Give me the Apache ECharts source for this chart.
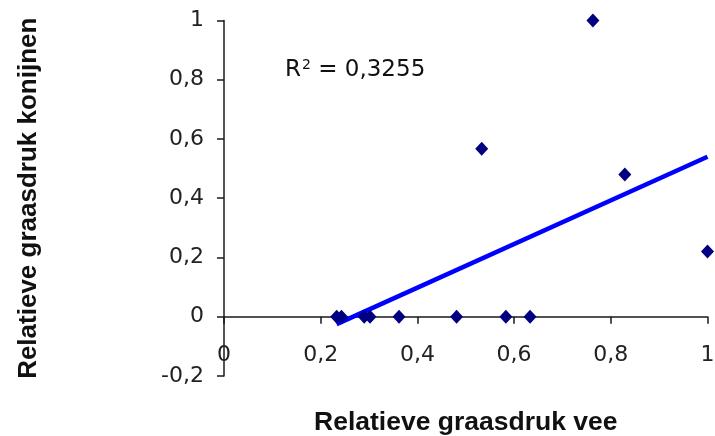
<!DOCTYPE html>
<html>
<head>
<meta charset="utf-8">
<script src="https://cdn.jsdelivr.net/npm/echarts@6/dist/echarts.min.js"></script>
<style>html,body{margin:0;padding:0;background:#fff}#c{width:715px;height:436px}</style>
</head>
<body>
<div id="c"></div>
<script>
const xValues = [0.233, 0.243, 0.290, 0.302, 0.362, 0.481, 0.583, 0.633, 0.533, 0.763, 0.829, 1.0];
const yValues = [0, 0, 0, 0, 0, 0, 0, 0, 0.567, 1.0, 0.48, 0.22];
const trendX = [0.233, 1.0];
const trendY = [-0.025, 0.54];
const rSquaredText = '0,3255';
const xAxisTitle = 'Relatieve graasdruk vee';
const yAxisTitle = 'Relatieve graasdruk konijnen';

const fmt = v => String(Math.round(v * 10) / 10).replace('.', ',');
const font = '"Liberation Sans", Arial, sans-serif';
const numFont = '"DejaVu Sans", sans-serif';
const chart = echarts.init(document.getElementById('c'));
chart.setOption({
  animation: false,
  backgroundColor: '#fff',
  grid: { left: 224, right: 7.5, top: 20.5, bottom: 60, containLabel: false, outerBoundsMode: 'none' },
  xAxis: {
    type: 'value', min: 0, max: 1, interval: 0.2,
    axisLine: { onZero: true, lineStyle: { color: '#1a1a1a', width: 1.5 } },
    axisTick: { show: true, inside: false, length: 7, lineStyle: { color: '#1a1a1a', width: 1.5 } },
    axisLabel: { margin: -32, formatter: fmt, color: '#222', fontSize: 22, fontFamily: numFont },
    splitLine: { show: false },
    name: xAxisTitle, nameLocation: 'middle', nameGap: 33,
    nameTextStyle: { fontSize: 26.5, fontWeight: 'bold', color: '#111', fontFamily: font }
  },
  yAxis: {
    type: 'value', min: -0.2, max: 1, interval: 0.2,
    axisLine: { show: true, onZero: false, lineStyle: { color: '#1a1a1a', width: 1.5 } },
    axisTick: { show: true, inside: false, length: 7, lineStyle: { color: '#1a1a1a', width: 1.5 } },
    axisLabel: { margin: 20, formatter: fmt, color: '#222', fontSize: 22, fontFamily: numFont },
    splitLine: { show: false },
    name: yAxisTitle, nameLocation: 'middle', nameGap: 182, nameRotate: 90,
    nameTextStyle: { fontSize: 26, fontWeight: 'bold', color: '#111', fontFamily: font }
  },
  graphic: [{
    type: 'text', left: 285, top: 58, z: 100,
    style: {
      text: '{a|R}{s|2}{a| = ' + rSquaredText + '}',
      rich: {
        a: { fontSize: 23, fontFamily: numFont, fill: '#111', verticalAlign: 'bottom' },
        s: { fontSize: 14, fontFamily: numFont, fill: '#111', verticalAlign: 'top', padding: [0, 0, 10, 1] }
      }
    }
  }],
  series: [
    {
      type: 'line',
      data: trendX.map((x, i) => [x, trendY[i]]),
      symbol: 'none',
      lineStyle: { color: '#0000ff', width: 4.5 },
      z: 3
    },
    {
      type: 'scatter',
      data: xValues.map((x, i) => [x, yValues[i]]),
      symbol: 'diamond', symbolSize: [13, 14],
      itemStyle: { color: '#000080', opacity: 1 },
      z: 4
    }
  ]
});
</script>
</body>
</html>
